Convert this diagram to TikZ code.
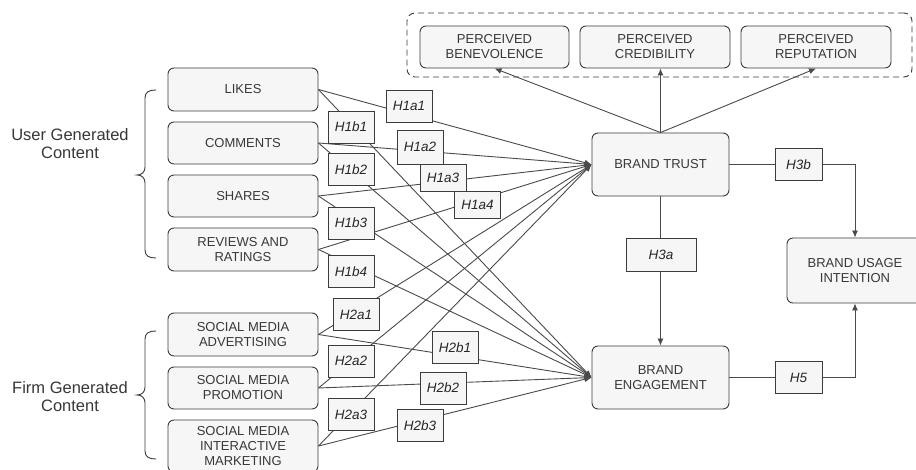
\documentclass[tikz,border=0pt]{standalone}
\usepackage{fontspec}
\setmainfont{Liberation Sans}
\usetikzlibrary{arrows.meta}
\definecolor{edge}{HTML}{3C3C3C}
\definecolor{boxfill}{HTML}{F6F6F6}
\definecolor{txt}{HTML}{383838}
\definecolor{lin}{HTML}{4A4A4A}
\tikzset{
  box/.style={draw=edge, fill=boxfill, rounded corners=6pt, line width=0.9pt,
    text=txt, align=center, font=\fontsize{13}{15}\selectfont, inner sep=0pt},
  hyp/.style={draw=edge, fill=boxfill, line width=0.9pt, text=black!85,
    font=\itshape\fontsize{13.5}{15}\selectfont, minimum width=46pt,
    minimum height=32pt, inner sep=0pt},
  conn/.style={draw=lin, line width=0.9pt},
  arr/.style={conn, -{Latex[length=7pt,width=6pt]}},
  grp/.style={text=txt, align=center, font=\fontsize{16.5}{18}\selectfont},
  brc/.style={draw=edge, line width=0.9pt}
}
\begin{document}
\begin{tikzpicture}[x=1pt,y=-1pt]
\useasboundingbox (0,0) rectangle (916,470);
\fill[white!98!black!30] (0,0) rectangle (916,470);
\fill[white] (0,0) rectangle (916,470);

% source boxes
\node[box, minimum width=150pt, minimum height=43pt] (likes) at (243,89.5) {LIKES};
\node[box, minimum width=150pt, minimum height=42pt] (comm) at (243,143) {COMMENTS};
\node[box, minimum width=150pt, minimum height=42pt] (shares) at (243,196) {SHARES};
\node[box, minimum width=150pt, minimum height=43pt] (rev) at (243,249.5) {REVIEWS AND\\RATINGS};
\node[box, minimum width=150pt, minimum height=43pt] (adv) at (243,334.5) {SOCIAL MEDIA\\ADVERTISING};
\node[box, minimum width=150pt, minimum height=42pt] (promo) at (243,388) {SOCIAL MEDIA\\PROMOTION};
\node[box, minimum width=150pt, minimum height=52pt] (inter) at (243,446) {SOCIAL MEDIA\\INTERACTIVE\\MARKETING};

% outcome boxes
\node[box, minimum width=137pt, minimum height=63pt] (trust) at (660.5,164.5) {BRAND TRUST};
\node[box, minimum width=137pt, minimum height=63pt] (eng) at (660.5,377.5) {BRAND\\ENGAGEMENT};
\node[box, minimum width=136pt, minimum height=65pt] (usage) at (855,270.5) {BRAND USAGE\\INTENTION};

% perceived boxes
\node[draw=edge, dashed, dash pattern=on 6pt off 4pt, rounded corners=8pt, line width=0.9pt,
  minimum width=505pt, minimum height=64pt, inner sep=0pt] (grpbox) at (659.5,45) {};
\node[box, minimum width=149pt, minimum height=42pt] (ben) at (494.5,47) {PERCEIVED\\BENEVOLENCE};
\node[box, minimum width=150pt, minimum height=42pt] (cred) at (655,47) {PERCEIVED\\CREDIBILITY};
\node[box, minimum width=150pt, minimum height=42pt] (rep) at (816,47) {PERCEIVED\\REPUTATION};

% group labels
\node[grp] (ugc) at (70,144) {User Generated\\Content};
\node[grp] (fgc) at (70,397) {Firm Generated\\Content};
\draw[brc] (156,90) .. controls (149,90) and (145,92) .. (145,98) -- (145,167)
  .. controls (145,172) and (142,175) .. (137,175)
  .. controls (142,175) and (145,178) .. (145,183) -- (145,250)
  .. controls (145,256) and (149,258) .. (156,258);
\draw[brc] (156,331) .. controls (149,331) and (145,333) .. (145,339) -- (145,387)
  .. controls (145,392) and (142,395) .. (137,395)
  .. controls (142,395) and (145,398) .. (145,403) -- (145,451)
  .. controls (145,457) and (149,459) .. (156,459);

% connectors to trust and engagement
\foreach \s in {likes,comm,shares,rev,adv,promo,inter}{
  \draw[arr] (\s.east) -- (trust.west);
  \draw[arr] (\s.east) -- (eng.west);
}

% trust to perceived
\draw[arr] (trust.north) -- (ben.south);
\draw[arr] (trust.north) -- (trust.north |- cred.south);
\draw[arr] (trust.north) -- (rep.south);

% trust -> engagement, usage
\draw[arr] (trust.south) -- (eng.north);
\draw[arr] (trust.east) -| (usage.north);
\draw[arr] (eng.east) -| (usage.south);

% hypothesis labels
\node[hyp] (h1a1) at (409,106) {H1a1};
\node[hyp] (h1b1) at (351,127) {H1b1};
\node[hyp, minimum height=34pt] (h1a2) at (420,147) {H1a2};
\node[hyp] (h1b2) at (351,169.5) {H1b2};
\node[hyp, minimum height=27pt] (h1a3) at (443,177.5) {H1a3};
\node[hyp, minimum height=27pt] (h1a4) at (477.5,204.5) {H1a4};
\node[hyp] (h1b3) at (351,223) {H1b3};
\node[hyp] (h1b4) at (351,271.5) {H1b4};
\node[hyp] (h2a1) at (356,314.5) {H2a1};
\node[hyp] (h2b1) at (455,347.5) {H2b1};
\node[hyp] (h2a2) at (351,361) {H2a2};
\node[hyp] (h2b2) at (443,388) {H2b2};
\node[hyp] (h2a3) at (351,414.5) {H2a3};
\node[hyp] (h2b3) at (420,425.5) {H2b3};
\node[hyp, minimum width=70pt, minimum height=33pt] (h3a) at (661,254.5) {H3a};
\node[hyp, minimum width=47pt] (h3b) at (798.5,164.5) {H3b};
\node[hyp, minimum width=47pt] (h5) at (798.5,377.5) {H5};
\end{tikzpicture}
\end{document}
